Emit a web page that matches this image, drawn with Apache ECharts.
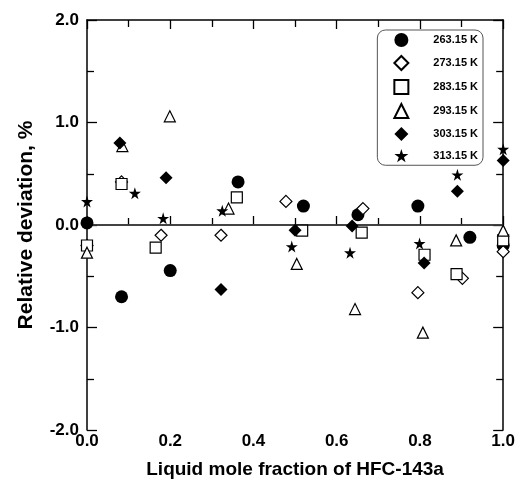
<!DOCTYPE html>
<html>
<head>
<meta charset="utf-8">
<script src="https://cdn.jsdelivr.net/npm/echarts@6/dist/echarts.min.js"></script>
<style>
  html, body { margin: 0; padding: 0; background: #fff; }
  #main { width: 518px; height: 484px; }
</style>
</head>
<body>
<div id="main"></div>
<script>
'use strict';
// series names (legend)
var temps = ['263.15 K', '273.15 K', '283.15 K', '293.15 K', '303.15 K', '313.15 K'];

// [x, deviation %]
var t263 = [[0.0, 0.02], [0.083, -0.70], [0.20, -0.445], [0.363, 0.42], [0.52, 0.185],
            [0.651, 0.10], [0.795, 0.185], [0.92, -0.12], [1.0, -0.20]];
var t273 = [[0.0, -0.20], [0.083, 0.42], [0.178, -0.10], [0.322, -0.10], [0.478, 0.23],
            [0.663, 0.16], [0.795, -0.66], [0.902, -0.52], [1.0, -0.26]];
var t283 = [[0.0, -0.20], [0.083, 0.40], [0.165, -0.22], [0.36, 0.27], [0.517, -0.055],
            [0.66, -0.075], [0.811, -0.29], [0.888, -0.48], [1.0, -0.15]];
var t293 = [[0.0, -0.27], [0.085, 0.77], [0.199, 1.06], [0.34, 0.16], [0.504, -0.38],
            [0.644, -0.82], [0.807, -1.05], [0.887, -0.15], [1.0, -0.055]];
var t303 = [[0.079, 0.80], [0.19, 0.46], [0.322, -0.63], [0.50, -0.05], [0.637, -0.01],
            [0.81, -0.37], [0.89, 0.33], [1.0, 0.63]];
var t313 = [[0.0, 0.23], [0.115, 0.31], [0.183, 0.065], [0.325, 0.14], [0.492, -0.21],
            [0.632, -0.27], [0.799, -0.18], [0.89, 0.49], [1.0, 0.74]];

var starPath = 'path://M50,0 L61,35 L98,35 L68,57 L79,91 L50,70 L21,91 L32,57 L2,35 L39,35 Z';

var filled = { color: '#000', opacity: 1 };
var hollow = { color: '#fff', borderColor: '#000', borderWidth: 1.2, opacity: 1 };

function sc(name, data, symbol, size, style) {
  return {
    name: name, type: 'scatter', data: data, symbol: symbol, symbolSize: size,
    itemStyle: style, z: 3
  };
}

var myChart = echarts.init(document.getElementById('main'));
var font = 'Liberation Sans, Arial, sans-serif';
var tickStyle = { color: '#000', width: 1.3 };
var option = {
  animation: false,
  grid: { left: 87, right: 13, top: 20, bottom: 54 },
  legend: {
    data: temps, orient: 'vertical', right: 35, top: 30,
    itemWidth: 14, itemHeight: 14, itemGap: 8,
    align: 'left',
    textStyle: { fontFamily: font, fontWeight: 'bold', fontSize: 11, color: '#000', padding: [0, 0, 0, 20] },
    borderColor: '#555', borderWidth: 1, borderRadius: 8,
    padding: [3, 5, 3, 16],
    backgroundColor: '#fff'
  },
  xAxis: [{
    type: 'value', min: 0, max: 1, interval: 0.2,
    name: 'Liquid mole fraction of HFC-143a', nameLocation: 'middle', nameGap: 30,
    nameTextStyle: { fontFamily: font, fontWeight: 'bold', fontSize: 19, color: '#000' },
    axisLine: { lineStyle: { color: '#000', width: 1.5 } },
    axisTick: { inside: true, length: 9, lineStyle: tickStyle },
    minorTick: { show: true, splitNumber: 2, length: 7, lineStyle: tickStyle },
    axisLabel: { fontFamily: font, fontWeight: 'bold', fontSize: 17, color: '#000', margin: 3,
                 formatter: function (v) { return v.toFixed(1); } },
    splitLine: { show: false }
  }, {
    type: 'value', min: 0, max: 1, interval: 0.2, position: 'top',
    axisLine: { show: true, onZero: false, lineStyle: { color: '#000', width: 1.5 } },
    axisTick: { inside: true, length: 9, lineStyle: tickStyle },
    minorTick: { show: true, splitNumber: 2, length: 7, lineStyle: tickStyle },
    axisLabel: { show: false }, splitLine: { show: false }
  }],
  yAxis: [{
    type: 'value', min: -2, max: 2, interval: 1,
    name: 'Relative deviation, %', nameLocation: 'middle', nameGap: 50,
    nameTextStyle: { fontFamily: font, fontWeight: 'bold', fontSize: 21, color: '#000' },
    axisLine: { lineStyle: { color: '#000', width: 1.5 } },
    axisTick: { inside: true, length: 10, lineStyle: tickStyle },
    minorTick: { show: true, splitNumber: 2, length: 7, lineStyle: tickStyle },
    axisLabel: { fontFamily: font, fontWeight: 'bold', fontSize: 17, color: '#000', margin: 8,
                 formatter: function (v) { return v.toFixed(1); } },
    splitLine: { show: false }
  }, {
    type: 'value', min: -2, max: 2, interval: 1, position: 'right',
    axisLine: { show: true, onZero: false, lineStyle: { color: '#000', width: 1.5 } },
    axisTick: { inside: true, length: 10, lineStyle: tickStyle },
    minorTick: { show: true, splitNumber: 2, length: 7, lineStyle: tickStyle },
    axisLabel: { show: false }, splitLine: { show: false }
  }],
  series: [
    {
      type: 'line', data: [[0, 0], [1, 0]], symbol: 'none', silent: true,
      lineStyle: { color: '#444', width: 1.3 }, z: 1
    },
    sc(temps[0], t263, 'circle', 13, filled),
    sc(temps[1], t273, 'diamond', 12, hollow),
    sc(temps[2], t283, 'rect', 11, hollow),
    sc(temps[3], t293, 'triangle', 11, hollow),
    sc(temps[4], t303, 'diamond', 13, filled),
    sc(temps[5], t313, starPath, 12, filled)
  ]
};
myChart.setOption(option);
</script>
</body>
</html>
